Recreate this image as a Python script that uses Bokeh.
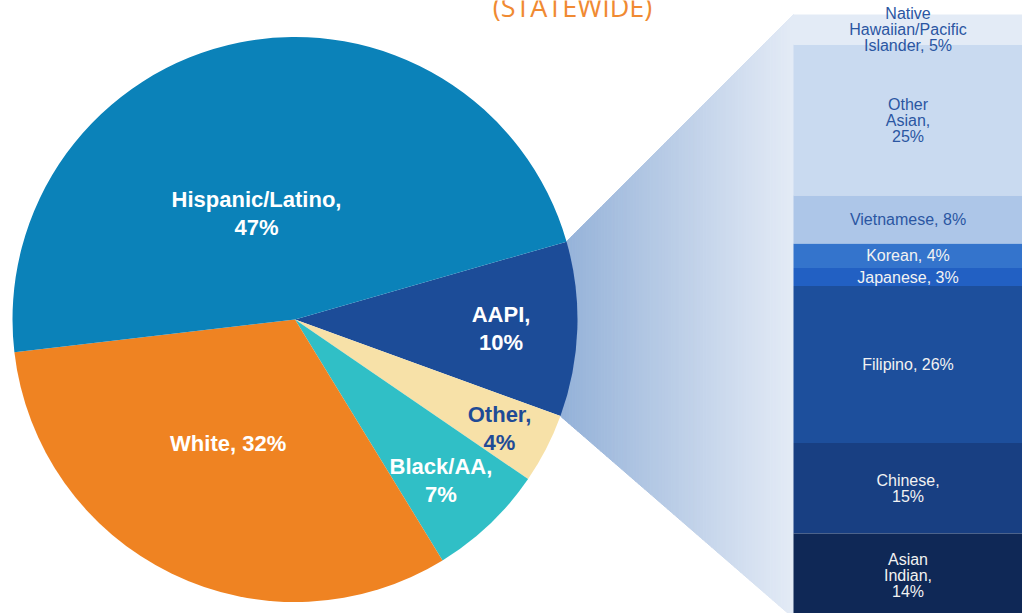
import math
from bokeh.plotting import figure
from bokeh.models import Range1d
from bokeh.core.properties import value
from bokeh.embed import file_html
from bokeh.resources import INLINE

# ---------------- data ----------------
pie_cats = ["AAPI", "Other", "Black/AA", "White", "Hispanic/Latino"]
pie_pct = [10.0, 4.0, 6.7, 31.9, 47.4]
pie_labels = ["AAPI,\n10%", "Other,\n4%", "Black/AA,\n7%", "White, 32%", "Hispanic/Latino,\n47%"]

aapi_cats = ["Native Hawaiian/Pacific Islander", "Other Asian", "Vietnamese", "Korean",
             "Japanese", "Filipino", "Chinese", "Asian Indian"]
aapi_pct = [5, 25, 8, 4, 3, 26, 15, 14]
aapi_labels = ["Native\nHawaiian/Pacific\nIslander, 5%", "Other\nAsian,\n25%", "Vietnamese, 8%",
               "Korean, 4%", "Japanese, 3%", "Filipino, 26%", "Chinese,\n15%", "Asian\nIndian,\n14%"]

title_text = "(STATEWIDE)"

# ---------------- style / layout ----------------
pie_colors = ["#1c4c98", "#f7e1a8", "#30bfc6", "#ef8322", "#0b82b9"]
pie_text_colors = ["white", "#1f4b96", "white", "white", "white"]
label_r = [0.73, 0.82, 0.77, 0.50, 0.40]
label_da = [-0.4, -0.8, -1.4, -2.3, 8.6]

aapi_colors = ["#e3ebf6", "#c9daf0", "#adc6e8", "#3474cc", "#2260c3", "#1d4f9c", "#183f82", "#0f2856"]
aapi_text_colors = ["#2b56a2", "#2b56a2", "#2b56a2", "#f2f2f2", "#f2f2f2", "#f2f2f2", "#f2f2f2", "#f2f2f2"]

cx, cy, R = 294.5, -319.0, 282.5
start_deg = 16.0
bar_left, bar_right = 793.0, 1022.0
bar_top, bar_h = -14.0, 603.5

W, H = 1022, 613
p = figure(width=W, height=H, x_range=Range1d(0, W), y_range=Range1d(-H, 0),
           output_backend="svg", toolbar_location=None, min_border=0)
p.axis.visible = False
p.grid.visible = False
p.outline_line_color = None
p.background_fill_color = "white"
p.border_fill_color = "white"

# pie angles
his, los = [], []
acc = 0.0
for v in pie_pct:
    hi = start_deg - acc * 3.6
    lo = hi - v * 3.6
    his.append(math.radians(hi))
    los.append(math.radians(lo))
    acc += v

# connector (gradient made of thin strips)
a_top, a_bot = his[0], los[0]
p1 = (cx + R * math.cos(a_top), cy + R * math.sin(a_top))
p2 = (cx + R * math.cos(a_bot), cy + R * math.sin(a_bot))
q1 = (bar_left, bar_top)
q2 = (bar_left, bar_top - bar_h)

def line_y(pa, pb, x):
    return pa[1] + (pb[1] - pa[1]) * (x - pa[0]) / (pb[0] - pa[0])

c0 = (0x93, 0xb1, 0xd8)
c1 = (0xe4, 0xeb, 0xf6)
x_start = min(p1[0], p2[0])
n = 80
xs, ys, cols = [], [], []
for i in range(n):
    xa = x_start + (bar_left - x_start) * i / n
    xb = x_start + (bar_left - x_start) * (i + 1) / n
    t = (i + 0.5) / n
    col = "#%02x%02x%02x" % tuple(int(round(c0[k] + (c1[k] - c0[k]) * t)) for k in range(3))
    xs.append([xa, xb, xb, xa])
    ys.append([line_y(p1, q1, xa), line_y(p1, q1, xb), line_y(p2, q2, xb), line_y(p2, q2, xa)])
    cols.append(col)
p.patches(xs=xs, ys=ys, fill_color=cols, line_color=cols, line_width=1)

# pie
p.wedge(x=[cx] * len(pie_pct), y=[cy] * len(pie_pct), radius=R,
        start_angle=los, end_angle=his, direction="anticlock",
        fill_color=pie_colors, line_color=None)

# pie labels
lx, ly = [], []
for i in range(len(pie_pct)):
    mid = (his[i] + los[i]) / 2 + math.radians(label_da[i])
    lx.append(cx + R * label_r[i] * math.cos(mid))
    ly.append(cy + R * label_r[i] * math.sin(mid))
p.text(x=lx, y=ly, text=pie_labels, text_align="center", text_baseline="middle",
       text_font=value("Liberation Sans"), text_font_style="bold", text_font_size="22px",
       text_color=pie_text_colors, text_line_height=1.11)

# bar of AAPI breakdown
unit = bar_h / sum(aapi_pct)
tops, bots, mids = [], [], []
acc = 0.0
for v in aapi_pct:
    t = bar_top - acc * unit
    b = t - v * unit
    tops.append(t)
    bots.append(b)
    mids.append((t + b) / 2)
    acc += v
p.quad(left=bar_left, right=bar_right, top=tops, bottom=bots, fill_color=aapi_colors, line_color=None)
p.text(x=[(bar_left + bar_right) / 2] * len(aapi_pct), y=mids, text=aapi_labels,
       text_align="center", text_baseline="middle", text_font=value("Liberation Sans"),
       text_font_size="16px", text_color=aapi_text_colors, text_line_height=0.94)

# title (cut off at the top, as in the source image)
p.text(x=[572], y=[-6], text=[title_text], text_align="center", text_baseline="alphabetic",
       text_font=value("Open Sans"), text_font_size="27px", text_color="#f08a32")

open("out.html", "w").write(file_html(p, INLINE))
